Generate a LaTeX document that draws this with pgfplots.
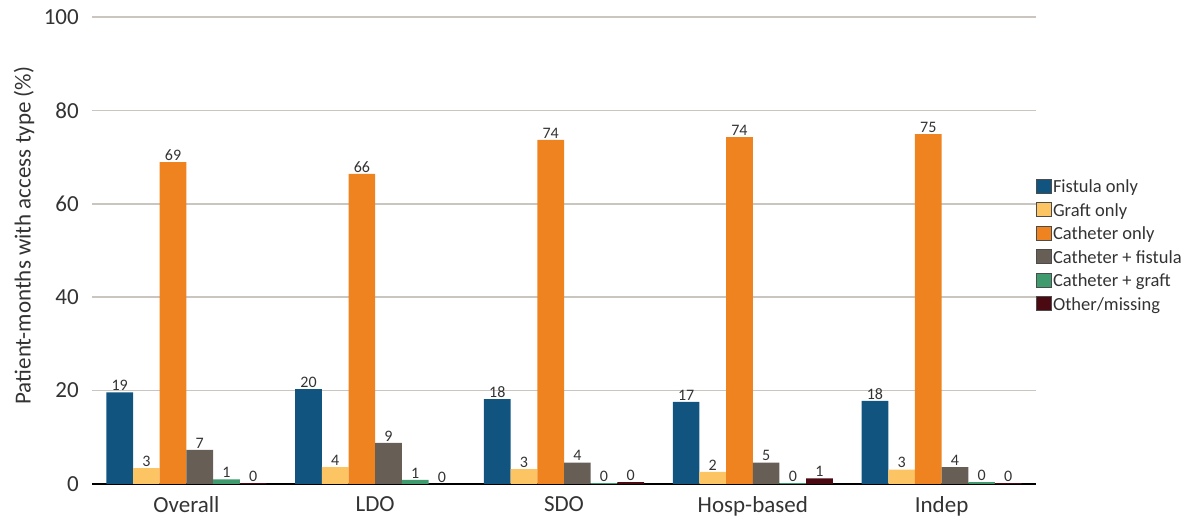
\documentclass[border=0pt]{standalone}
\usepackage{fontspec}
\setmainfont{Carlito}
\usepackage{pgfplots}
\pgfplotsset{compat=1.18}
\definecolor{cFist}{HTML}{10547F}
\definecolor{cGraft}{HTML}{FDC463}
\definecolor{cCath}{HTML}{EE8320}
\definecolor{cCF}{HTML}{675E55}
\definecolor{cCG}{HTML}{3F9A6E}
\definecolor{cOth}{HTML}{4B0A12}
\definecolor{gridc}{HTML}{CBC5BF}
\definecolor{txt}{HTML}{333333}
\begin{document}
\begin{tikzpicture}
\path[use as bounding box] (0,0) rectangle (1200bp,527bp);
\begin{axis}[
  at={(92bp,43bp)}, anchor=south west,
  width=944bp, height=467bp, scale only axis,
  xmin=-0.5, xmax=4.5, ymin=0, ymax=100,
  ybar=0pt, bar width=0.1413,
  every axis plot/.append style={legend image code/.code={\draw[#1, draw=black!70, line width=0.8bp] (0bp,-6bp) rectangle (15bp,8bp);}},
  xtick={0,...,4}, xticklabels={Overall,LDO,SDO,Hosp-based,Indep},
  ytick={0,20,...,100},
  ymajorgrids, grid style={color=gridc, line width=1.5bp},
  axis x line*=bottom, axis y line*=left,
  y axis line style={draw=none},
  x axis line style={line width=1.2bp, black, -},
  major tick length=0pt,
  /pgf/number format/assume math mode=true,
  tick label style={font=\fontsize{23bp}{26bp}\selectfont, text=txt},
  yticklabel style={inner sep=0pt, xshift=-13bp},
  xticklabel style={inner sep=0pt, yshift=-12bp},
  ylabel={Patient-months with access type (\%)},
  ylabel style={font=\fontsize{23bp}{26bp}\selectfont, text=txt, at={(axis description cs:-0.072,0.532)}, anchor=center},
  point meta=explicit symbolic,
  nodes near coords,
  nodes near coords style={font=\fontsize{16bp}{18bp}\selectfont, text=txt, inner sep=1.5bp, anchor=south},
  legend cell align=left,
  legend style={draw=none, fill=none, at={(1.0,0.51)}, anchor=west, inner sep=0pt,
    font=\fontsize{18.5bp}{21bp}\selectfont, text=txt, row sep=7bp,
    nodes={inner sep=1bp}},
]
\addplot[fill=cFist, draw=none] coordinates {(0,19.6)[19] (1,20.3)[20] (2,18.2)[18] (3,17.6)[17] (4,17.8)[18]};
\addplot[fill=cGraft, draw=none] coordinates {(0,3.4)[3] (1,3.6)[4] (2,3.2)[3] (3,2.6)[2] (4,3.1)[3]};
\addplot[fill=cCath, draw=none] coordinates {(0,68.9)[69] (1,66.4)[66] (2,73.7)[74] (3,74.3)[74] (4,74.9)[75]};
\addplot[fill=cCF, draw=none] coordinates {(0,7.3)[7] (1,8.8)[9] (2,4.6)[4] (3,4.6)[5] (4,3.6)[4]};
\addplot[fill=cCG, draw=none] coordinates {(0,1.0)[1] (1,0.9)[1] (2,0.2)[0] (3,0.2)[0] (4,0.4)[0]};
\addplot[fill=cOth, draw=none] coordinates {(0,0.2)[0] (1,0.0)[0] (2,0.4)[0] (3,1.2)[1] (4,0.2)[0]};
\legend{Fistula only, Graft only, Catheter only, Catheter + fistula, Catheter + graft, Other/missing}
\end{axis}
\end{tikzpicture}
\end{document}
